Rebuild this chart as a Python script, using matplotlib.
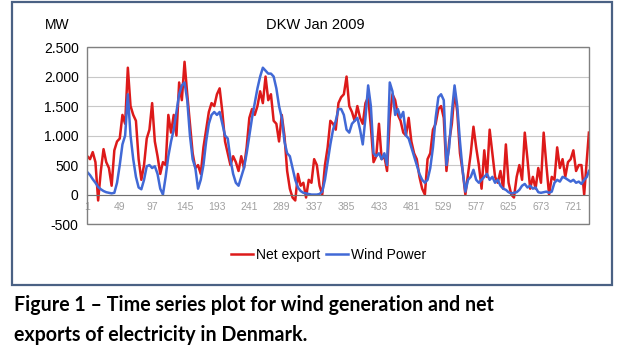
"""
DKW Jan 2009 - net export vs wind power, hourly (read off every 4th hour)
"""

import numpy as np
import matplotlib.pyplot as plt
from matplotlib.patches import Rectangle
from matplotlib.ticker import FuncFormatter

## Data (MW), sampled at hours 1, 5, 9, ... 741 and the last hour 744

hours = list(range(1, 742, 4)) + [744]

net_export = [
    650, 600, 720, 550, -100, 400, 770, 550, 450, 150, 750, 900, 950, 1350, 1200, 2150,
    1500, 1350, 1250, 600, 250, 500, 950, 1100, 1550, 900, 650, 350, 550, 500, 1350, 1050,
    1350, 1000, 1900, 1600, 2250, 1700, 1200, 700, 450, 500, 350, 800, 1100, 1400, 1550, 1500,
    1700, 1800, 1400, 900, 700, 500, 650, 550, 400, 650, 450, 800, 1300, 1450, 1350, 1500,
    1750, 1550, 2000, 1600, 1700, 1250, 1200, 900, 1350, 1000, 400, 100, -50, -100, 350, 150,
    200, -50, 250, 200, 600, 500, 150, 0, 500, 800, 1250, 1200, 1100, 1550, 1650, 1700,
    2000, 1500, 1400, 1250, 1500, 1300, 1200, 1550, 1650, 1150, 550, 650, 1200, 600, 650, 400,
    1300, 1700, 1600, 1350, 1250, 1050, 1000, 1300, 900, 700, 600, 300, 100, 0, 600, 700,
    1100, 1200, 1450, 1500, 1300, 400, 900, 1200, 1750, 1400, 700, 400, 0, 350, 700, 1150,
    800, 500, 100, 750, 300, 1100, 700, 300, 200, 400, 100, 850, 200, 0, -50, 300,
    500, 250, 1050, 600, 100, 300, 100, 450, 200, 1050, 500, 0, 300, 250, 800, 450,
    600, 300, 550, 600, 750, 400, 500, 500, 0, 600, 1050,
]

wind_power = [
    380, 330, 260, 200, 130, 90, 60, 40, 30, 20, 30, 200, 500, 850, 1000, 1700,
    1000, 600, 300, 120, 90, 250, 480, 500, 450, 480, 350, 100, 0, 300, 650, 900,
    1100, 1400, 1700, 1850, 1900, 1600, 1000, 600, 450, 100, 250, 500, 900, 1200, 1350, 1400,
    1350, 1400, 1200, 1000, 950, 600, 350, 200, 150, 300, 450, 700, 1000, 1300, 1550, 1800,
    2000, 2150, 2100, 2050, 2050, 2000, 1800, 1500, 1300, 900, 700, 650, 450, 250, 120, 60,
    30, 20, 10, 0, 0, 0, 10, 50, 250, 550, 850, 1100, 1250, 1450, 1450, 1350,
    1100, 1050, 1200, 1250, 1300, 1100, 850, 1300, 1850, 1500, 700, 650, 700, 600, 700, 500,
    1900, 1750, 1350, 1450, 1300, 1400, 1000, 950, 800, 650, 500, 350, 250, 200, 250, 450,
    800, 1300, 1650, 1700, 1600, 500, 800, 1400, 1850, 1500, 900, 400, 50, 250, 300, 420,
    250, 200, 250, 300, 350, 250, 300, 200, 250, 150, 100, 80, 40, 20, 30, 40,
    80, 150, 180, 120, 150, 100, 120, 40, 30, 40, 50, 30, 50, 200, 250, 220,
    300, 280, 250, 220, 250, 200, 220, 180, 250, 300, 400,
]

hour_ticks = list(range(1, 745, 48))

## Plot

plt.rcParams['font.family'] = ['Liberation Sans', 'DejaVu Sans']

fig = plt.figure(figsize=(6.17, 3.62), dpi=100)

# chart frame (Excel chart area)
fig.patches.append(Rectangle((0.0194, 0.2127), 0.972, 0.782, transform=fig.transFigure,
                             fill=False, edgecolor='#4a6184', linewidth=1.6))

ax = fig.add_axes([0.141, 0.381, 0.814, 0.489])
ax.plot(hours, net_export, color='#dd1a1a', linewidth=1.8, label='Net export')
ax.plot(hours, wind_power, color='#4169d6', linewidth=1.8, label='Wind Power')

ax.set_xlim(0.5, 744.5)
ax.set_ylim(-500, 2500)
ax.set_yticks(range(-500, 2501, 500))
ax.yaxis.set_major_formatter(FuncFormatter(lambda v, p: f'{int(v):,}'.replace(',', '.')))
ax.tick_params(axis='y', length=0, labelsize=10, pad=6)
ax.grid(axis='y', color='#c8c8c8', linewidth=0.8)
ax.set_axisbelow(True)

# category labels sit on the zero line
ax.set_xticks(hour_ticks)
ax.set_xticklabels([str(h) for h in hour_ticks])
ax.spines['bottom'].set_position(('data', 0))
ax.spines['bottom'].set_color('#707070')
ax.tick_params(axis='x', length=0, labelsize=7.5, labelcolor='#a0a0a0', pad=5)
for s in ['top', 'right', 'left']:
    ax.spines[s].set_visible(False)
ax.add_patch(Rectangle((0, 0), 1, 1, transform=ax.transAxes, fill=False,
                       edgecolor='#808080', linewidth=1.0, clip_on=False, zorder=5))

fig.text(0.073, 0.93, 'MW', fontsize=10, ha='left', va='center')
fig.text(0.511, 0.93, 'DKW Jan 2009', fontsize=10.5, ha='center', va='center')

fig.legend(loc='center', bbox_to_anchor=(0.532, 0.295), ncol=2, frameon=False,
           fontsize=10, handlelength=1.6, handletextpad=0.2, columnspacing=0.4)

## Caption under the chart
fig.text(0.023, 0.158, 'Figure 1 \u2013 Time series plot for wind generation and net',
         fontsize=14.1, family='Lato', weight='bold', ha='left', va='center')
fig.text(0.023, 0.075, 'exports of electricity in Denmark.',
         fontsize=14.1, family='Lato', weight='bold', ha='left', va='center')

plt.savefig('out.png', dpi=100)
